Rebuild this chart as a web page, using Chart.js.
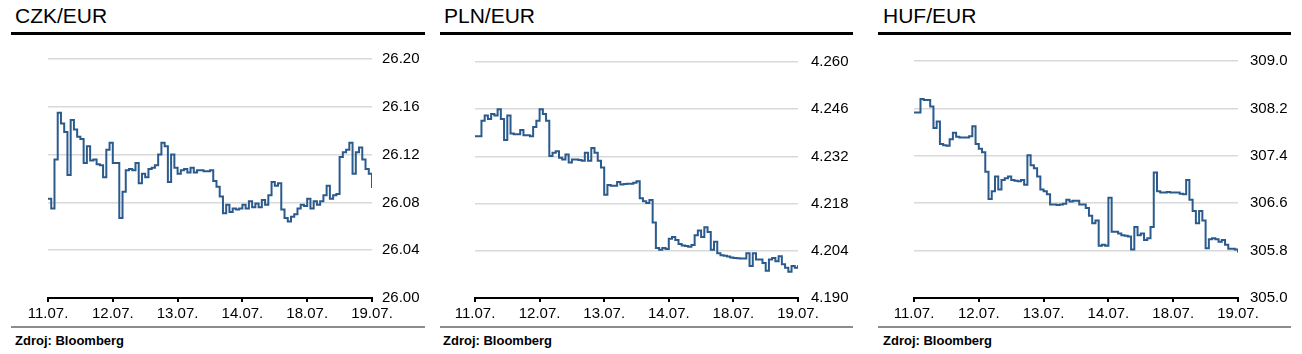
<!DOCTYPE html>
<html lang="cs">
<head>
    <meta charset="UTF-8">
    <title>CZK/EUR, PLN/EUR, HUF/EUR</title>
    <script src="https://cdn.jsdelivr.net/npm/chart.js"></script>
    <style>
        body {
            margin: 0;
            width: 1302px;
            height: 354px;
            background: #fff;
            font-family: "Liberation Sans", Arial, sans-serif;
            position: relative;
            overflow: hidden;
        }
        .title {
            position: absolute;
            top: 5px;
            font-size: 21px;
            line-height: 21px;
            color: #000;
        }
        .rule-top {
            position: absolute;
            top: 32px;
            height: 3px;
            background: #000;
        }
        .rule-bottom {
            position: absolute;
            top: 326px;
            height: 2px;
            background: #8c8c8c;
        }
        .source {
            position: absolute;
            top: 334px;
            font-size: 13px;
            line-height: 13px;
            font-weight: bold;
            color: #000;
        }
        canvas {
            position: absolute;
            top: 40px;
        }
    </style>
</head>
<body>
    <!-- CZK -->
    <div class="title" style="left:15px">CZK/EUR</div>
    <div class="rule-top" style="left:11px;width:414px"></div>
    <canvas id="czk" width="414" height="285" style="left:11px"></canvas>
    <div class="rule-bottom" style="left:11px;width:414px"></div>
    <div class="source" style="left:15px">Zdroj: Bloomberg</div>

    <!-- PLN -->
    <div class="title" style="left:444px">PLN/EUR</div>
    <div class="rule-top" style="left:440px;width:413px"></div>
    <canvas id="pln" width="413" height="285" style="left:440px"></canvas>
    <div class="rule-bottom" style="left:440px;width:413px"></div>
    <div class="source" style="left:443px">Zdroj: Bloomberg</div>

    <!-- HUF -->
    <div class="title" style="left:883px">HUF/EUR</div>
    <div class="rule-top" style="left:878px;width:413px"></div>
    <canvas id="huf" width="413" height="285" style="left:878px"></canvas>
    <div class="rule-bottom" style="left:878px;width:413px"></div>
    <div class="source" style="left:883px">Zdroj: Bloomberg</div>

    <script>
        // x axis: trading days, tick i sits at x = i
        const dayLabels = ['11.07.', '12.07.', '13.07.', '14.07.', '18.07.', '19.07.'];
        // one reading every 1/20 of a day
        const sampleStep = 0.05;

        const czkTicks = [26.00, 26.04, 26.08, 26.12, 26.16, 26.20];
        const plnTicks = [4.190, 4.204, 4.218, 4.232, 4.246, 4.260];
        const hufTicks = [305.0, 305.8, 306.6, 307.4, 308.2, 309.0];

        const czkValues = [
            26.083, 26.075, 26.116, 26.155, 26.146, 26.139, 26.103, 26.149, 26.141, 26.135,
            26.133, 26.113, 26.127, 26.115, 26.116, 26.112, 26.111, 26.101, 26.124, 26.130,
            26.113, 26.113, 26.067, 26.089, 26.107, 26.108, 26.107, 26.113, 26.096, 26.104,
            26.101, 26.108, 26.109, 26.111, 26.120, 26.130, 26.127, 26.097, 26.120, 26.109,
            26.104, 26.107, 26.108, 26.105, 26.109, 26.105, 26.107, 26.107, 26.106, 26.106,
            26.107, 26.098, 26.093, 26.085, 26.071, 26.078, 26.072, 26.075, 26.074, 26.075,
            26.078, 26.075, 26.081, 26.076, 26.079, 26.076, 26.082, 26.078, 26.086, 26.097,
            26.094, 26.096, 26.074, 26.067, 26.064, 26.068, 26.070, 26.075, 26.078, 26.077,
            26.083, 26.075, 26.081, 26.078, 26.081, 26.086, 26.094, 26.083, 26.086, 26.087,
            26.118, 26.122, 26.124, 26.130, 26.104, 26.122, 26.126, 26.116, 26.108, 26.104,
            26.092
        ];

        const plnValues = [
            4.2380, 4.2380, 4.2426, 4.2441, 4.2431, 4.2446, 4.2441, 4.2460, 4.2431, 4.2369,
            4.2441, 4.2388, 4.2386, 4.2386, 4.2398, 4.2383, 4.2383, 4.2380, 4.2407, 4.2426,
            4.2460, 4.2446, 4.2426, 4.2321, 4.2331, 4.2335, 4.2316, 4.2311, 4.2326, 4.2302,
            4.2311, 4.2311, 4.2309, 4.2307, 4.2331, 4.2307, 4.2345, 4.2331, 4.2307, 4.2287,
            4.2206, 4.2235, 4.2233, 4.2233, 4.2244, 4.2237, 4.2238, 4.2239, 4.2239, 4.2242,
            4.2246, 4.2196, 4.2187, 4.2182, 4.2191, 4.2124, 4.2048, 4.2043, 4.2048, 4.2045,
            4.2076, 4.2081, 4.2072, 4.2060, 4.2056, 4.2054, 4.2052, 4.2057, 4.2086, 4.2100,
            4.2081, 4.2110, 4.2096, 4.2043, 4.2067, 4.2033, 4.2027, 4.2025, 4.2023, 4.2020,
            4.2019, 4.2018, 4.2017, 4.2017, 4.2033, 4.1995, 4.2033, 4.2014, 4.2014, 4.2004,
            4.1981, 4.2014, 4.2019, 4.2009, 4.2024, 4.2000, 4.1990, 4.1978, 4.1995, 4.1990,
            4.1997
        ];

        const hufValues = [
            308.13, 308.13, 308.36, 308.34, 308.34, 308.23, 307.87, 307.98, 307.60, 307.58,
            307.57, 307.68, 307.79, 307.72, 307.71, 307.71, 307.71, 307.73, 307.90, 307.60,
            307.52, 307.46, 307.13, 306.67, 306.80, 307.05, 306.83, 306.99, 307.02, 307.05,
            306.99, 306.98, 306.97, 306.99, 306.91, 307.41, 307.24, 307.19, 307.05, 306.83,
            306.80, 306.75, 306.58, 306.58, 306.57, 306.58, 306.59, 306.66, 306.63, 306.64,
            306.64, 306.58, 306.58, 306.52, 306.39, 306.26, 306.31, 305.88, 305.90, 305.88,
            306.69, 306.12, 306.12, 306.09, 306.06, 306.05, 306.04, 305.82, 306.20, 306.06,
            306.09, 305.98, 306.01, 306.20, 307.12, 306.80, 306.78, 306.78, 306.79, 306.78,
            306.78, 306.78, 306.76, 306.75, 306.99, 306.66, 306.47, 306.26, 306.47, 306.31,
            305.84, 305.99, 306.01, 305.99, 305.95, 305.98, 305.90, 305.83, 305.83, 305.82,
            305.77
        ];

        const lineColor = '#2b5a8d';

        function drawPanel(id, values, ticks, decimals, padLeft, axisWidth, labelPad) {
            const points = values.map((v, i) => ({ x: i * sampleStep, y: v }));
            return new Chart(document.getElementById(id), {
                type: 'line',
                data: {
                    datasets: [{
                        data: points,
                        borderColor: lineColor,
                        borderWidth: 2,
                        pointRadius: 0,
                        stepped: true
                    }]
                },
                options: {
                    responsive: false,
                    animation: false,
                    devicePixelRatio: 1,
                    layout: { autoPadding: false, padding: { left: padLeft, top: 13, right: 0, bottom: 0 } },
                    plugins: { legend: { display: false }, tooltip: { enabled: false } },
                    scales: {
                        x: {
                            type: 'linear',
                            min: 0,
                            max: dayLabels.length - 1,
                            afterBuildTicks: s => { s.ticks = dayLabels.map((_, i) => ({ value: i })); },
                            afterFit: s => { s.height = 27; },
                            grid: { drawOnChartArea: false, drawTicks: true, tickLength: 4, color: '#000', lineWidth: 2 },
                            border: { display: true, color: '#000', width: 2 },
                            ticks: {
                                autoSkip: false,
                                maxRotation: 0,
                                padding: 3,
                                color: '#000',
                                font: { family: 'Liberation Sans', size: 15 },
                                callback: v => dayLabels[v]
                            }
                        },
                        y: {
                            position: 'right',
                            min: ticks[0],
                            max: ticks[ticks.length - 1],
                            afterBuildTicks: s => { s.ticks = ticks.map(v => ({ value: v })); },
                            afterFit: s => { s.width = axisWidth; },
                            grid: { color: '#d9d9d9', lineWidth: 1.5, drawTicks: false },
                            border: { display: false },
                            ticks: {
                                padding: labelPad,
                                color: '#000',
                                font: { family: 'Liberation Sans', size: 15 },
                                callback: v => v.toFixed(decimals)
                            }
                        }
                    }
                }
            });
        }

        drawPanel('czk', czkValues, czkTicks, 2, 37, 53, 10);
        drawPanel('pln', plnValues, plnTicks, 3, 35, 55, 13);
        drawPanel('huf', hufValues, hufTicks, 1, 36, 53, 12);
    </script>
</body>
</html>
